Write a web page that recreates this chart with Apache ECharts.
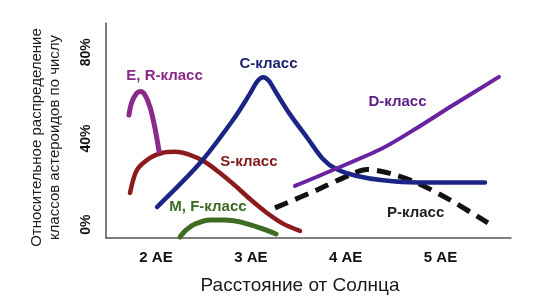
<!DOCTYPE html>
<html>
<head>
<meta charset="utf-8">
<script src="https://cdn.jsdelivr.net/npm/echarts@6/dist/echarts.min.js"></script>
<style>
html,body{margin:0;padding:0;background:#fff;}
#c{width:540px;height:306px;}
</style>
</head>
<body>
<div id="c"></div>
<script>
// Distance (AU) ticks and y ticks (%)
const xTicks = [2, 3, 4, 5];
const yTicks = [0, 40, 80];

// Series: [distance AU, relative share %]
const erClass = [[1.715,50.9],[1.742,56.5],[1.794,60.9],[1.837,61.8],[1.884,60.2],[1.937,54.6],[1.989,44.9],[2.032,34.2]];
const sClass = [[1.726,14.7],[1.800,25.4],[1.937,31.0],[2.063,33.3],[2.200,33.8],[2.358,32.4],[2.517,29.1],[2.675,24.0],[2.833,18.2],[2.991,11.9],[3.160,5.8],[3.339,0.5],[3.518,-2.9]];
const mfClass = [[2.253,-5.7],[2.316,-2.5],[2.411,0.3],[2.569,2.2],[2.727,2.2],[2.886,1.3],[3.096,-1.5],[3.265,-4.3]];
const cClass = [[2.011,8.2],[2.464,28.6],[2.812,48.6],[2.980,60.0],[3.070,66.6],[3.130,68.4],[3.190,66.8],[3.260,61.8],[3.400,52.0],[3.600,40.0],[3.760,30.5],[3.900,25.8],[4.119,22.6],[4.393,20.6],[4.752,19.6],[5.469,19.6]];
const dClass = [[3.465,18.0],[3.866,25.4],[4.393,35.6],[4.752,44.9],[5.100,54.6],[5.616,68.6]];
const pClass = [[3.255,7.8],[3.697,16.1],[4.045,23.1],[4.225,25.6],[4.467,23.8],[4.752,19.4],[5.100,11.5],[5.500,0.8]];

const names = ['E, R-класс','S-класс','M, F-класс','C-класс','D-класс','P-класс'];

const FONT = 'Arial, "Liberation Sans", sans-serif';

function lbl(text, coord, color) {
  return {
    symbol: 'circle', symbolSize: 1, silent: true,
    itemStyle: {color: 'rgba(0,0,0,0)'},
    label: {show: true, position: 'inside', formatter: text, color: color,
            fontSize: 15, fontWeight: 'bold', fontFamily: FONT},
    data: [{coord: coord}]
  };
}

function line(name, data, color, width, z, labelCoord, labelColor, dashed) {
  return {
    type: 'line', name: name, data: data, smooth: 0.3, symbol: 'none', z: z,
    lineStyle: {color: color, width: width, cap: dashed ? 'butt' : 'round', join: 'round',
                type: dashed ? [14, 8] : 'solid'},
    markPoint: lbl(name, labelCoord, labelColor),
    animation: false
  };
}

const chart = echarts.init(document.getElementById('c'), null, {renderer: 'canvas'});
chart.setOption({
  backgroundColor: '#ffffff',
  animation: false,
  grid: {left: 106, right: 29, top: 23, bottom: 68, containLabel: false},
  xAxis: {
    type: 'value', min: 1.473, max: 5.743,
    axisLine: {show: true, onZero: false, lineStyle: {color: '#555', width: 1.5}},
    axisTick: {show: false}, splitLine: {show: false},
    axisLabel: {customValues: xTicks, formatter: v => v + ' АЕ', margin: 12,
                color: '#111', fontSize: 15, fontWeight: 'bold', fontFamily: FONT},
    name: 'Расстояние от Солнца', nameLocation: 'middle', nameGap: 38,
    nameTextStyle: {color: '#1a1a1a', fontSize: 19, fontFamily: FONT, padding: [0, 17, 0, 0]}
  },
  yAxis: {
    type: 'value', min: -6.17, max: 93.6,
    axisLine: {show: true, onZero: false, lineStyle: {color: '#555', width: 1.5}},
    axisTick: {show: false}, splitLine: {show: false},
    axisLabel: {customValues: yTicks, formatter: v => v + '%', rotate: 90, margin: 13,
                color: '#111', fontSize: 14, fontWeight: 'bold', fontFamily: FONT},
    name: 'Относительное распределение\nклассов астероидов по числу',
    nameLocation: 'middle', nameGap: 42, nameRotate: 90,
    nameTextStyle: {color: '#1a1a1a', fontSize: 15, lineHeight: 18, fontFamily: FONT, padding: [0, 14, 0, 0]}
  },
  series: [
    line(names[1], sClass, '#8c1c1c', 4.5, 2, [2.980, 29.1], '#7e1a1a'),
    line(names[2], mfClass, '#3f6b23', 5, 2, [2.548, 8.2], '#3c6a22'),
    line(names[0], erClass, '#8b2a8b', 5, 3, [2.09, 69.0], '#8a2b8a'),
    line(names[5], pClass, '#111111', 5, 3, [4.738, 5.7], '#222222', true),
    line(names[3], cClass, '#1c2585', 4.5, 4, [3.186, 74.6], '#1b1f6e'),
    line(names[4], dClass, '#6a22a0', 4, 5, [4.546, 57.1], '#5a1d84')
  ]
});
</script>
</body>
</html>
